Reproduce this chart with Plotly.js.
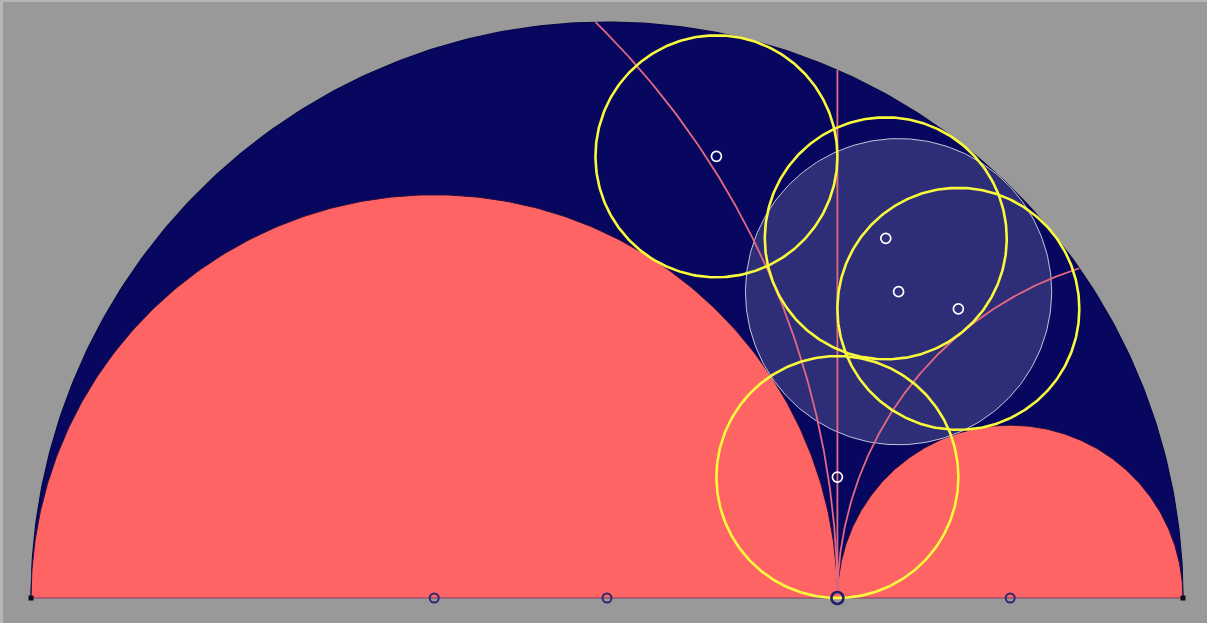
<!DOCTYPE html>
<html>
<head>
<meta charset="utf-8">
<script src="https://cdn.plot.ly/plotly-3.0.1.min.js"></script>
<style>html,body{margin:0;padding:0;background:#999999;}#chart{width:1207px;height:623px;}</style>
</head>
<body>
<div id="chart"></div>
<script>
// Arbelos with AB = 1, AC = 0.7
const semiCx = [0.5, 0.35, 0.85];
const semiR = [0.5, 0.35, 0.15];
const semiFill = ['#07075f', '#ff6464', '#ff6464'];

const inCx = [0.7531];
const inCy = [0.2659];
const inR = [0.1329];

const yelCx = [0.595, 0.742, 0.805, 0.7];
const yelCy = [0.3834, 0.3122, 0.251, 0.105];
const yelR = [0.105, 0.105, 0.105, 0.105];

const arcCx = [0, 1];
const arcR = [0.7, 0.3];
const vertX = [0.7];

const whiteX = [0.595, 0.742, 0.7531, 0.805, 0.7];
const whiteY = [0.3834, 0.3122, 0.2659, 0.251, 0.105];

const baseBlueX = [0.35, 0.5, 0.85];
const baseCX = [0.7];
const endX = [0, 1];

function arcPts(cx, cy, r, a0, a1, n) {
  const xs = [], ys = [];
  for (let i = 0; i <= n; i++) {
    const a = a0 + (a1 - a0) * i / n;
    xs.push(cx + r * Math.cos(a));
    ys.push(cy + r * Math.sin(a));
  }
  return {x: xs, y: ys};
}

const traces = [];
// semicircles (fill closes along the baseline; outline only on the arc)
for (let i = 0; i < semiCx.length; i++) {
  const p = arcPts(semiCx[i], 0, semiR[i], 0, Math.PI, 300);
  traces.push({type: 'scatter', mode: 'lines', x: p.x, y: p.y, fill: 'toself',
    fillcolor: semiFill[i], line: {color: i === 0 ? '#05054a' : '#2a1040', width: i === 0 ? 1.2 : 1},
    hoverinfo: 'skip', showlegend: false});
}
// baseline
traces.push({type: 'scatter', mode: 'lines', x: [endX[0], endX[1]], y: [0, 0],
  line: {color: 'rgba(140,70,105,0.8)', width: 1.4}, hoverinfo: 'skip', showlegend: false});

// incircle (translucent)
{
  const p = arcPts(inCx[0], inCy[0], inR[0], 0, 2 * Math.PI, 300);
  traces.push({type: 'scatter', mode: 'lines', x: p.x, y: p.y, fill: 'toself',
    fillcolor: 'rgba(255,255,255,0.16)', line: {color: 'rgba(225,225,235,0.85)', width: 1},
    hoverinfo: 'skip', showlegend: false});
}

// pink arcs: centred at A and B, from C to the big semicircle
const bigCx = semiCx[0], bigR = semiR[0];
for (let i = 0; i < arcCx.length; i++) {
  const d = bigCx - arcCx[i];
  const xi = (arcR[i] * arcR[i] - bigR * bigR + bigCx * bigCx - arcCx[i] * arcCx[i]) / (2 * d);
  const yi = Math.sqrt(arcR[i] * arcR[i] - (xi - arcCx[i]) * (xi - arcCx[i]));
  const aEnd = Math.atan2(yi, xi - arcCx[i]);
  const aStart = Math.atan2(0, vertX[0] - arcCx[i]);
  const p = arcPts(arcCx[i], 0, arcR[i], aStart, aEnd, 300);
  traces.push({type: 'scatter', mode: 'lines', x: p.x, y: p.y,
    line: {color: '#e4687f', width: 1.8}, hoverinfo: 'skip', showlegend: false});
}
// vertical line at C
{
  const yTop = Math.sqrt(bigR * bigR - (vertX[0] - bigCx) * (vertX[0] - bigCx));
  traces.push({type: 'scatter', mode: 'lines', x: [vertX[0], vertX[0]], y: [0, yTop],
    line: {color: '#e4687f', width: 1.8}, hoverinfo: 'skip', showlegend: false});
}

// yellow Archimedean circles
for (let i = 0; i < yelCx.length; i++) {
  const p = arcPts(yelCx[i], yelCy[i], yelR[i], 0, 2 * Math.PI, 300);
  traces.push({type: 'scatter', mode: 'lines', x: p.x, y: p.y,
    line: {color: '#fafa3c', width: 2.6}, hoverinfo: 'skip', showlegend: false});
}

// markers
traces.push({type: 'scatter', mode: 'markers', x: whiteX, y: whiteY, cliponaxis: false,
  marker: {symbol: 'circle-open', size: 10, color: '#ffffff', line: {width: 1.7, color: '#ffffff'}},
  hoverinfo: 'skip', showlegend: false});
traces.push({type: 'scatter', mode: 'markers', x: baseBlueX, y: baseBlueX.map(() => 0), cliponaxis: false,
  marker: {symbol: 'circle-open', size: 9, color: '#2a2a72', line: {width: 2, color: '#2a2a72'}},
  hoverinfo: 'skip', showlegend: false});
traces.push({type: 'scatter', mode: 'markers', x: baseCX, y: [0], cliponaxis: false,
  marker: {symbol: 'circle-open', size: 12, color: '#1e1e66', line: {width: 2.6, color: '#1e1e66'}},
  hoverinfo: 'skip', showlegend: false});
traces.push({type: 'scatter', mode: 'markers', x: endX, y: [0, 0], cliponaxis: false,
  marker: {symbol: 'square', size: 5, color: '#0a0a20'},
  hoverinfo: 'skip', showlegend: false});

const W = 1207, H = 623, scale = 1152, ax = 31, by = 598;
const layout = {
  width: W, height: H,
  margin: {l: 0, r: 0, t: 0, b: 0},
  paper_bgcolor: '#999999', plot_bgcolor: '#999999',
  xaxis: {range: [-ax / scale, (W - ax) / scale], visible: false, fixedrange: true},
  yaxis: {range: [-(H - by) / scale, by / scale], visible: false, fixedrange: true},
  showlegend: false,
  shapes: [
    {type: 'rect', xref: 'paper', yref: 'paper', x0: 0, x1: 1, y0: 1 - 2 / H, y1: 1,
      fillcolor: '#b6b6b6', line: {width: 0}, layer: 'above'},
    {type: 'rect', xref: 'paper', yref: 'paper', x0: 0, x1: 3 / W, y0: 0, y1: 1,
      fillcolor: '#b6b6b6', line: {width: 0}, layer: 'above'}
  ]
};
Plotly.newPlot('chart', traces, layout, {displayModeBar: false, staticPlot: true});
</script>
</body>
</html>
